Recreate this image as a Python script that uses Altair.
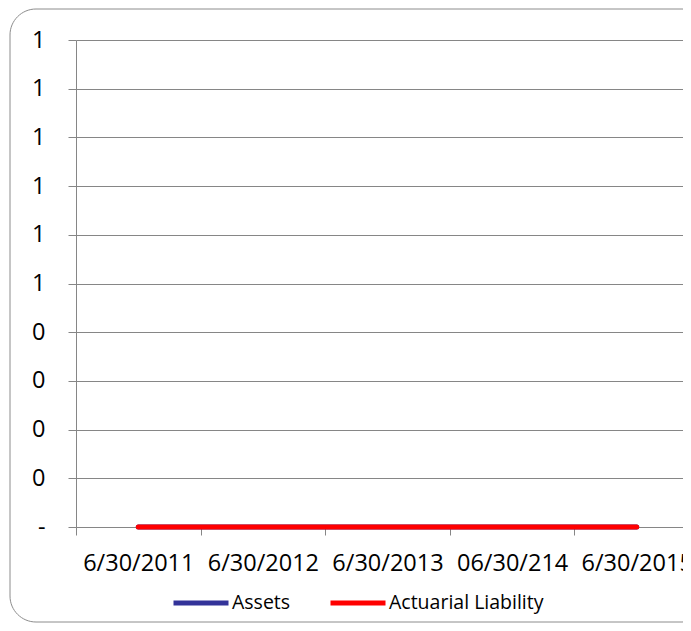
import altair as alt
import pandas as pd

# ---- data ----
dates = ["6/30/2011", "6/30/2012", "6/30/2013", "06/30/214", "6/30/2015"]
assets = [0, 0, 0, 0, 0]
liability = [0, 0, 0, 0, 0]
series_names = ["Assets", "Actuarial Liability"]
series_colors = ["#333399", "#FF0000"]
y_ticks = [0, 0.1, 0.2, 0.3, 0.4, 0.5, 0.6, 0.7, 0.8, 0.9, 1.0]
y_labels = ["-", "0", "0", "0", "0", "1", "1", "1", "1", "1", "1"]

df = pd.DataFrame({
    "date": dates * 2,
    "value": assets + liability,
    "series": [series_names[0]] * len(dates) + [series_names[1]] * len(dates),
})

label_expr = " : ".join(
    f"abs(datum.value - {v}) < 1e-9 ? '{l}'" for v, l in zip(y_ticks, y_labels)
) + " : ''"

GRID = "#868686"
FONT = "Open Sans"

x_enc = alt.X(
    "date:N",
    sort=dates,
    bandPosition=0.5,
    scale=alt.Scale(type="band", paddingInner=0, paddingOuter=0, range=[0, 623]),
    axis=alt.Axis(
        title=None, tickBand="extent", tickSize=8, labelPadding=16, labelAngle=0,
        labelOverlap=False, grid=False, domainColor=GRID, tickColor=GRID,
        labelFont=FONT, labelFontSize=23.5, labelColor="#000000", labelLimit=0,
    ),
)
y_enc = alt.Y(
    "value:Q",
    scale=alt.Scale(domain=[0, 1], nice=False, zero=True),
    axis=alt.Axis(
        title=None, values=y_ticks, labelExpr=label_expr, tickSize=8, labelPadding=23,
        grid=True, gridColor=GRID, domainColor=GRID, tickColor=GRID,
        labelFont=FONT, labelFontSize=23.5, labelColor="#000000",
        labelFlush=False, labelOverlap=False,
    ),
)
color_enc = alt.Color(
    "series:N",
    scale=alt.Scale(domain=series_names, range=series_colors),
    legend=alt.Legend(
        title=None, orient="none", legendX=95, legendY=533, direction="horizontal",
        symbolType="stroke", symbolSize=3025, symbolStrokeWidth=5, labelOffset=1,
        columnPadding=29, padding=0, labelFont=FONT, labelFontSize=19.5,
        labelColor="#000000", labelLimit=0,
    ),
)

base = alt.Chart(df).mark_line(strokeWidth=5, strokeCap="round").encode(
    x=x_enc, y=y_enc, color=color_enc
)
line_assets = base.transform_filter(alt.datum.series == series_names[0])
line_liab = base.transform_filter(alt.datum.series == series_names[1])

border = alt.Chart(pd.DataFrame({"k": [0]})).mark_rect(
    filled=False, stroke="#8c8c8c", strokeWidth=1, cornerRadius=26
).encode(
    x=alt.value(-66), x2=alt.value(632), y=alt.value(-31), y2=alt.value(582)
)

chart = alt.layer(border, line_assets, line_liab).properties(
    width=607,
    height=487,
    autosize=alt.AutoSizeParams(type="none"),
    padding={"left": 68, "top": 32, "right": 0, "bottom": 96},
).configure_view(stroke=None)

chart.save("out.html", embed_options={"renderer": "svg", "actions": False})
